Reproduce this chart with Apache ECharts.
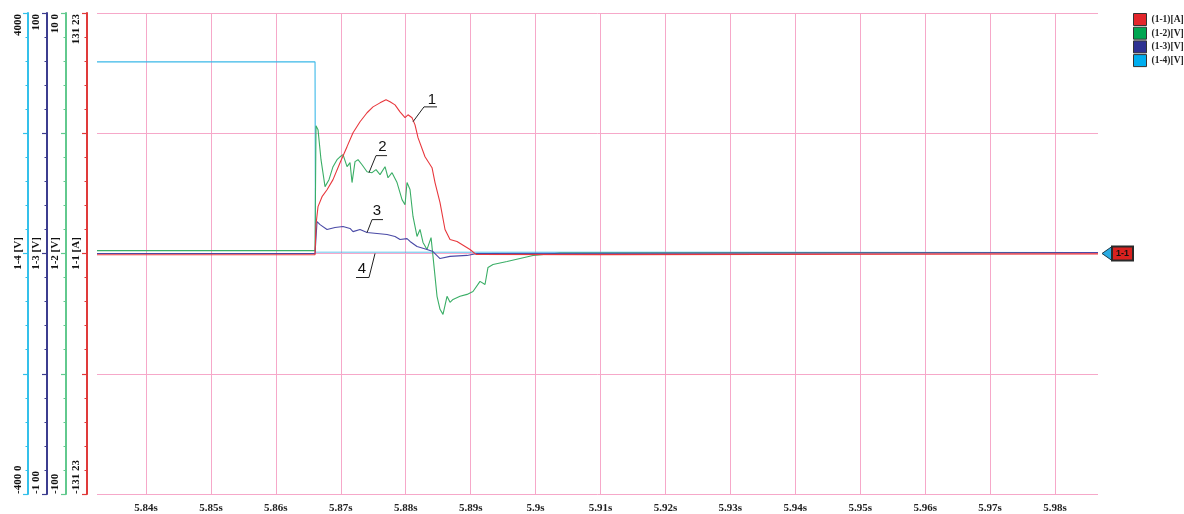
<!DOCTYPE html>
<html><head><meta charset="utf-8">
<script src="https://cdn.jsdelivr.net/npm/echarts@6/dist/echarts.min.js"></script>
<style>html,body{margin:0;padding:0;background:#fff}#c{width:1184px;height:514px}</style>
</head><body><div id="c"></div>
<script>
// ---- data (time in s, value in axis units) ----
var seriesNames = ['(1-1)[A]', '(1-2)[V]', '(1-3)[V]', '(1-4)[V]'];
var axisMax = [131.23, 10.0, 1.00, 400.0];
var axisTopLabels = ['131 23', '10 0', '100', '4000'];
var axisBottomLabels = ['-131 23', '-100', '-1 00', '-400 0'];
var axisNameLabels = ['1-1 [A]', '1-2 [V]', '1-3 [V]', '1-4 [V]'];
var timeMin = 5.83245, timeMax = 5.98662;

var current11 = [
  [5.83245,-0.7],[5.86603,-0.7],[5.86618,15.8],[5.86649,25.6],[5.86711,31.0],[5.86788,34.8],
  [5.8688,40.3],[5.86988,49.5],[5.87096,58.3],[5.87188,65.9],[5.87296,71.9],[5.87404,76.8],
  [5.87496,80.0],[5.87604,82.2],[5.87696,83.9],[5.87758,82.8],[5.87835,81.1],[5.87912,77.3],
  [5.87989,74.1],[5.88035,75.7],[5.88097,74.1],[5.88143,70.2],[5.88189,63.2],[5.88297,52.8],
  [5.88405,46.8],[5.88451,38.7],[5.88528,27.8],[5.88605,13.1],[5.88682,7.6],[5.8879,6.5],
  [5.8899,2.2],[5.89082,-0.5],[5.90992,-0.6],[5.98662,-0.2]
];
var voltage12 = [
  [5.83245,0.12],[5.86603,0.12],[5.86618,5.31],[5.86649,5.15],[5.86695,3.90],[5.86757,2.78],
  [5.86818,3.07],[5.8688,3.61],[5.86942,3.90],[5.86988,4.02],[5.87034,4.11],[5.87096,3.61],
  [5.87142,3.78],[5.87173,2.95],[5.87219,3.82],[5.87265,3.90],[5.87327,3.69],[5.87404,3.40],
  [5.87481,3.36],[5.87542,3.49],[5.87604,3.28],[5.87681,3.61],[5.87727,3.15],[5.87789,3.36],
  [5.87866,2.95],[5.87943,2.24],[5.87989,2.03],[5.8802,2.95],[5.88066,2.66],[5.88112,1.54],
  [5.88174,0.71],[5.8822,1.00],[5.88266,0.46],[5.88328,0.17],[5.8839,0.66],[5.8842,-0.12],
  [5.88482,-1.78],[5.88528,-2.32],[5.88574,-2.53],[5.88636,-1.78],[5.88682,-2.03],[5.88728,-1.91],
  [5.88836,-1.78],[5.88944,-1.70],[5.89036,-1.58],[5.89144,-1.16],[5.89221,-1.29],[5.89267,-0.58],
  [5.89344,-0.46],[5.8956,-0.33],[5.8996,-0.08],[5.90376,0.02],[5.98662,0.04]
];
var voltage13 = [
  [5.83245,0],[5.86603,0],[5.86634,0.133],[5.8668,0.12],[5.86788,0.10],[5.86911,0.108],
  [5.87034,0.112],[5.87142,0.104],[5.87188,0.091],[5.87296,0.10],[5.87404,0.087],[5.87558,0.083],
  [5.87712,0.079],[5.87835,0.071],[5.87912,0.058],[5.8802,0.062],[5.88066,0.05],[5.88174,0.029],
  [5.88328,0.017],[5.8842,0.008],[5.88528,-0.021],[5.88682,-0.012],[5.88944,-0.008],[5.89098,0],
  [5.98662,0.004]
];
var voltage14 = [
  [5.83245,318.7],[5.86603,318.7],[5.8661,2.5],[5.98662,1.7]
];
// annotation leaders: [time, value on (1-1) axis]
var annotLabels = ['1','2','3','4'];
var annotText = [[5.88405,84.0],[5.87642,58.3],[5.87558,23.4],[5.87327,-8.2]];
var annotLines = [
  [[5.88482,80.0],[5.88281,80.0],[5.88112,71.9]],
  [[5.87712,53.4],[5.87542,53.4],[5.87434,44.1]],
  [[5.8765,18.5],[5.87481,18.5],[5.87404,11.4]],
  [[5.87527,0],[5.87434,-13.1],[5.87234,-13.1]]
];

var lineColors = ['#e8383d', '#3aae66', '#4a4aa6', '#3ab8e8'];
var legendColors = ['#e3262b', '#00a651', '#2e3192', '#00aeef'];
var axisColors = ['#e03a3a', '#62c98e', '#3c3d8f', '#34c0ea'];
var axisOffsets = [10, 31, 50, 69];
var seriesZ = [9, 6, 7, 5];
var pink = '#f6a8c9';
var serif = '"Liberation Serif", "DejaVu Serif", serif';

var chart = echarts.init(document.getElementById('c'), null, {renderer: 'canvas'});
var yAxes = axisMax.map(function (m, i) {
  return {
    type: 'value', position: 'left', offset: axisOffsets[i],
    min: -m, max: m, interval: m / 2,
    axisLine: {show: true, onZero: false, lineStyle: {color: axisColors[i], width: 2}},
    axisTick: {show: true, length: 5, lineStyle: {color: axisColors[i], width: 1.2}},
    minorTick: {show: true, splitNumber: 5, length: 2.5, lineStyle: {color: axisColors[i], width: 1}},
    axisLabel: {show: false},
    splitLine: {show: i === 0, lineStyle: {color: pink, width: 1}}
  };
});
var datasets = [current11, voltage12, voltage13, voltage14];
var series = datasets.map(function (d, i) {
  return {
    name: seriesNames[i], type: 'line', yAxisIndex: i, data: d,
    showSymbol: false, symbol: 'none', animation: false,
    lineStyle: {color: lineColors[i], width: 1.1}, itemStyle: {color: lineColors[i]},
    z: seriesZ[i]
  };
});
chart.setOption({
  animation: false,
  backgroundColor: '#fff',
  grid: {left: 97, right: 86, top: 13, bottom: 19, containLabel: false},
  legend: {
    orient: 'vertical', left: 1133, top: 13, itemGap: 0.7, itemWidth: 13, itemHeight: 12,
    icon: 'rect', selectedMode: false, padding: 0,
    textStyle: {fontFamily: serif, fontWeight: 'bold', fontSize: 9.5, lineHeight: 12, color: '#222'},
    data: seriesNames.map(function (n, i) {
      return {name: n, itemStyle: {color: legendColors[i], borderColor: '#333', borderWidth: 1}};
    })
  },
  xAxis: {
    type: 'value', min: timeMin, max: timeMax, splitNumber: 15,
    axisLine: {show: false}, axisTick: {show: false},
    splitLine: {show: true, showMinLine: false, showMaxLine: false, lineStyle: {color: pink, width: 1}},
    axisLabel: {
      showMinLabel: false, showMaxLabel: false, margin: 9,
      fontFamily: serif, fontWeight: 'bold', fontSize: 11, color: '#222',
      formatter: function (v) { return (+v.toFixed(2)) + 's'; }
    }
  },
  yAxis: yAxes,
  series: series
});

// axis texts, annotations and the right-hand marker
var g = [];
var labelX = [76, 55, 36, 18];
var y0 = chart.convertToPixel({yAxisIndex: 0}, 0);
axisMax.forEach(function (m, i) {
  var yt = chart.convertToPixel({yAxisIndex: i}, m);
  var yb = chart.convertToPixel({yAxisIndex: i}, -m);
  var common = {fontFamily: serif, fontWeight: 'bold', fontSize: 11, fill: '#111', textVerticalAlign: 'middle'};
  g.push({type: 'text', x: labelX[i], y: yt + 1, rotation: Math.PI / 2,
    style: Object.assign({text: axisTopLabels[i], textAlign: 'right'}, common)});
  g.push({type: 'text', x: labelX[i], y: yb, rotation: Math.PI / 2,
    style: Object.assign({text: axisBottomLabels[i], textAlign: 'left'}, common)});
  g.push({type: 'text', x: labelX[i], y: y0, rotation: Math.PI / 2,
    style: Object.assign({text: axisNameLabels[i], textAlign: 'center'}, common)});
});
annotLines.forEach(function (pts, i) {
  var p = pts.map(function (q) { return chart.convertToPixel({xAxisIndex: 0, yAxisIndex: 0}, q); });
  g.push({type: 'polyline', shape: {points: p}, style: {stroke: '#222', lineWidth: 1, fill: null}, z: 10});
  var t = chart.convertToPixel({xAxisIndex: 0, yAxisIndex: 0}, annotText[i]);
  g.push({type: 'text', x: t[0], y: t[1], z: 10,
    style: {text: annotLabels[i], fontFamily: '"Liberation Sans", Arial, sans-serif', fontSize: 15,
      fill: '#111', textAlign: 'center', textVerticalAlign: 'middle'}});
});
var xr = chart.convertToPixel({xAxisIndex: 0}, timeMax);
g.push({type: 'polygon', shape: {points: [[xr + 4, y0], [xr + 14, y0 - 7], [xr + 14, y0 + 7]]},
  style: {fill: '#29abe2', stroke: '#1b3a4a', lineWidth: 1}, z: 10});
g.push({type: 'rect', shape: {x: xr + 14, y: y0 - 7, width: 21, height: 14},
  style: {fill: '#d9211f', stroke: '#2a2a2a', lineWidth: 2}, z: 10});
g.push({type: 'text', x: xr + 24.5, y: y0, z: 11,
  style: {text: '1-1', fontFamily: '"Liberation Sans", Arial, sans-serif', fontWeight: 'bold', fontSize: 9,
    fill: '#111', textAlign: 'center', textVerticalAlign: 'middle'}});
chart.setOption({graphic: g});
</script>
</body></html>
